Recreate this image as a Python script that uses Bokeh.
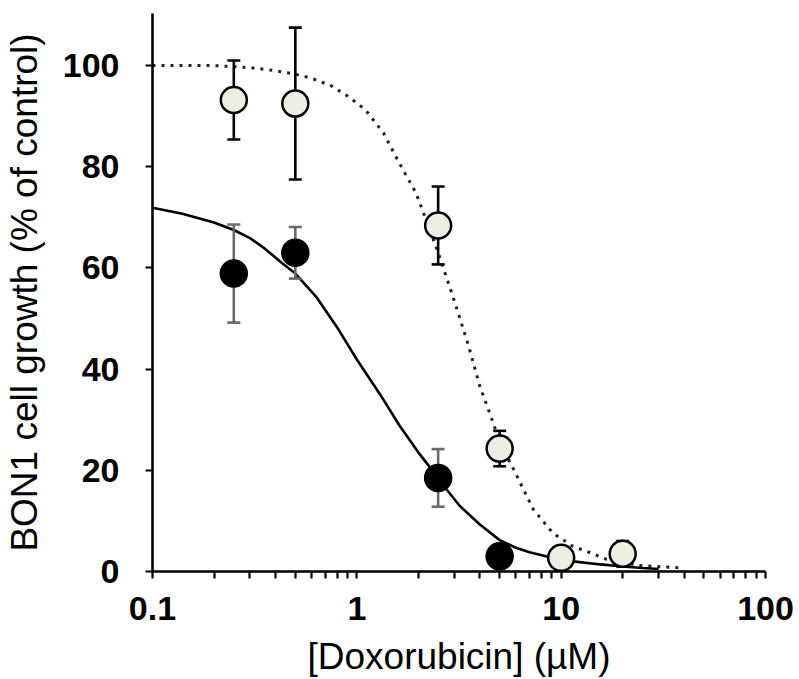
from bokeh.plotting import figure
from bokeh.models import Range1d, FixedTicker, CustomJSTickFormatter
from bokeh.embed import file_html
from bokeh.resources import INLINE

# ---- data ----
conc_light = [0.25, 0.5, 2.5, 5, 10, 20]
mean_light = [93.2, 92.5, 68.4, 24.3, 2.7, 3.5]
err_light = [7.8, 15.0, 7.7, 3.5, 1.0, 2.5]

conc_dark = [0.25, 0.5, 2.5, 5]
mean_dark = [58.9, 63.0, 18.5, 3.0]
err_dark = [9.7, 5.1, 5.7, 1.0]

# fitted curves as drawn in the reference (read point by point)
curve_dot_x = [0.1, 0.2, 0.3, 0.4, 0.5, 0.6, 0.75, 0.9, 1.1, 1.35, 1.6, 1.95, 2.15,
               2.5, 2.95, 3.5, 4.0, 4.65, 5.0, 5.85, 7.3, 9.1, 11.4, 13.3, 16.7, 24, 32, 40]
curve_dot_y = [100, 100, 99.6, 99.0, 98.3, 97.5, 96.0, 94.0, 91.3, 86.7, 81.0, 74.8, 70.2,
               63.0, 54.4, 45.0, 36.6, 29.4, 25.5, 20.2, 12.3, 7.6, 5.0, 4.0, 2.4, 1.2, 0.9, 0.7]

curve_sol_x = [0.1, 0.14, 0.2, 0.25, 0.3, 0.35, 0.43, 0.5, 0.63, 0.8, 1.0, 1.3, 1.62,
               2.03, 2.5, 2.75, 3.2, 4.0, 5.0, 6.0, 7.0, 8.8, 11.4, 15.6, 20, 25, 30]
curve_sol_y = [71.9, 70.7, 69.0, 67.5, 65.9, 64.0, 61.0, 58.9, 54.4, 48.3, 41.9, 35.0, 28.8,
               23.2, 18.5, 16.2, 12.9, 9.3, 6.2, 4.7, 3.8, 2.8, 2.0, 1.4, 1.0, 0.7, 0.5]

x_major = [0.1, 1, 10, 100]
x_minor = [0.2, 0.3, 0.4, 0.5, 0.6, 0.7, 0.8, 0.9,
           2, 3, 4, 5, 6, 7, 8, 9,
           20, 30, 40, 50, 60, 70, 80, 90]
y_ticks = [0, 20, 40, 60, 80, 100]

FONT = "Liberation Sans"

p = figure(width=797, height=679, x_axis_type="log",
           x_range=Range1d(0.1, 100), y_range=Range1d(0, 110.3),
           output_backend="svg", toolbar_location=None,
           min_border_left=152, min_border_right=32, min_border_top=13, min_border_bottom=108)

p.outline_line_color = None
p.xgrid.visible = False
p.ygrid.visible = False
p.background_fill_color = "white"
p.border_fill_color = "white"

# curves
p.line(curve_dot_x, curve_dot_y, line_color="#222222", line_width=3, line_dash="3 6")
p.line(curve_sol_x, curve_sol_y, line_color="black", line_width=2.6)

# error bars
def errbars(xs, ys, es, color):
    lo = [y - e for y, e in zip(ys, es)]
    hi = [y + e for y, e in zip(ys, es)]
    p.segment(x0=xs, y0=lo, x1=xs, y1=hi, line_color=color, line_width=2.6)
    p.scatter(xs + xs, lo + hi, marker="dash", size=13, line_color=color, line_width=2.6)

errbars(conc_dark, mean_dark, err_dark, "#6a6a6a")
errbars(conc_light, mean_light, err_light, "black")

# markers
p.scatter(conc_dark, mean_dark, size=26, fill_color="black", line_color="black", line_width=2.5)
p.scatter(conc_light, mean_light, size=26, fill_color="#EDEDE1", line_color="black", line_width=2.5)

# axes
xa = p.xaxis[0]
xa.ticker = FixedTicker(ticks=x_major, minor_ticks=x_minor)
xa.formatter = CustomJSTickFormatter(code="return String(Math.round(tick*10)/10);")
ya = p.yaxis[0]
ya.ticker = FixedTicker(ticks=y_ticks)

for ax in (xa, ya):
    ax.axis_line_width = 2.6
    ax.axis_line_color = "black"
    ax.major_tick_line_width = 2.2
    ax.minor_tick_line_width = 2.2
    ax.major_tick_in = 0
    ax.minor_tick_in = 0
    ax.major_label_text_font = FONT
    ax.major_label_text_font_style = "bold"
    ax.major_label_text_font_size = "34px"
    ax.major_label_text_color = "black"
    ax.axis_label_text_font = FONT
    ax.axis_label_text_font_style = "normal"
    ax.axis_label_text_font_size = "37px"
    ax.axis_label_text_color = "black"

xa.major_tick_out = 7
xa.minor_tick_out = 7
xa.major_label_standoff = 18
xa.axis_label = "[Doxorubicin] (µM)"
xa.axis_label_standoff = 13

ya.major_tick_out = 7
ya.minor_tick_out = 0
ya.major_label_standoff = 26
ya.axis_label = "BON1 cell growth (% of control)"
ya.axis_label_standoff = 15

open("out.html", "w").write(file_html(p, INLINE))
